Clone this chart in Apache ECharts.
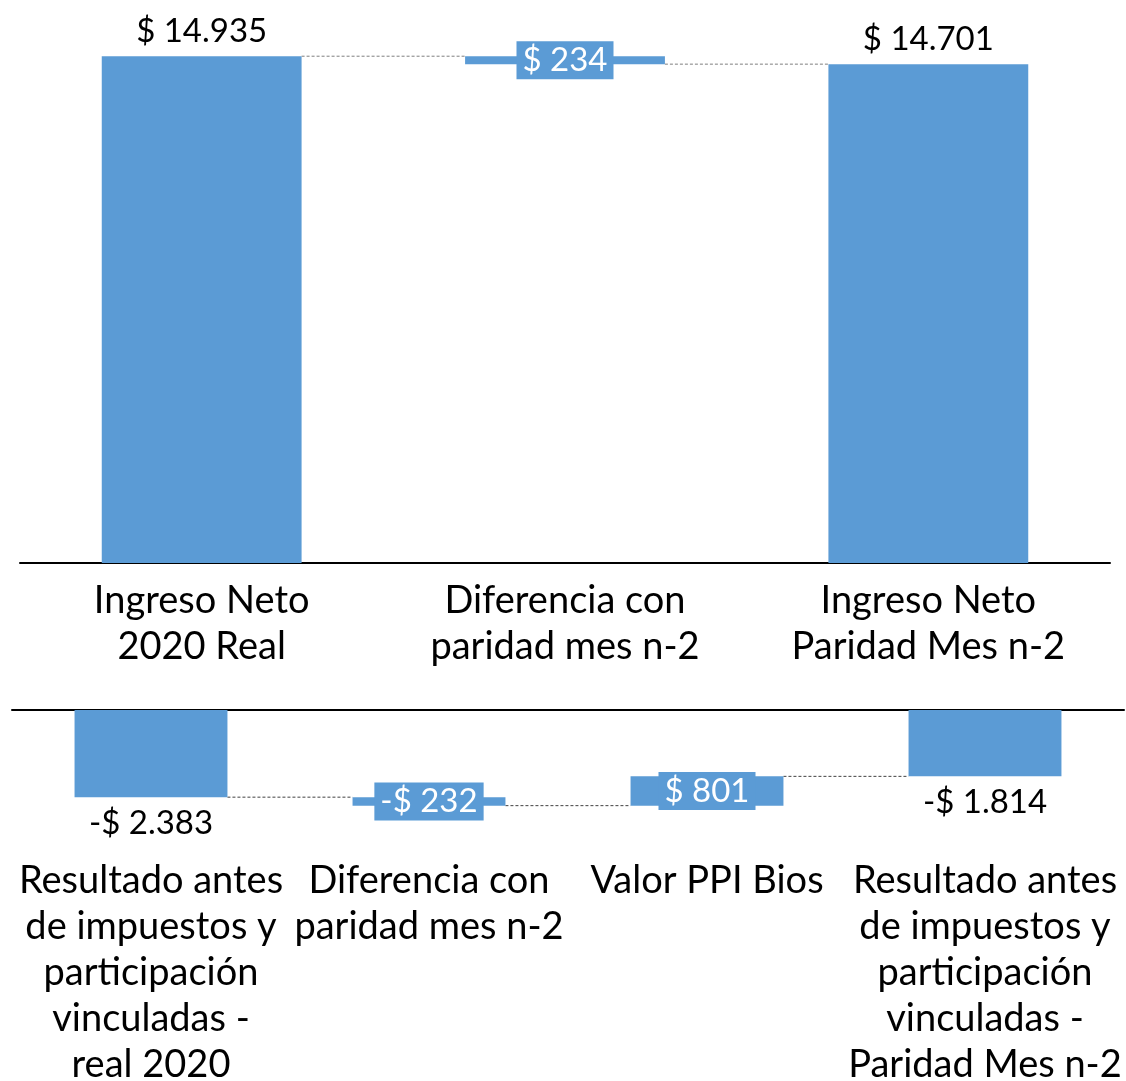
<!DOCTYPE html>
<html style="height: 100%">
<head>
    <meta charset="utf-8">
    <title>Waterfall</title>
    <script src="https://cdn.jsdelivr.net/npm/echarts@6/dist/echarts.min.js"></script>
</head>
<body style="height: 100%; margin: 0; background: #fff">
<div id="container" style="width: 1126px; height: 1081px"></div>
<script>
    // top waterfall
    var topCategories = ['Ingreso Neto\n2020 Real', 'Diferencia con\nparidad mes n-2', 'Ingreso Neto\nParidad Mes n-2'];
    var topValues = [14935, -234, 14701];
    var topIsTotal = [true, false, true];
    var topLabels = ['$ 14.935', '$ 234', '$ 14.701'];

    // bottom waterfall
    var botCategories = [
        'Resultado antes\nde impuestos y\nparticipación\nvinculadas -\nreal 2020',
        'Diferencia con\nparidad mes n-2',
        'Valor PPI Bios',
        'Resultado antes\nde impuestos y\nparticipación\nvinculadas -\nParidad Mes n-2'
    ];
    var botValues = [-2383, -232, 801, -1814];
    var botIsTotal = [true, false, false, true];
    var botLabels = ['-$ 2.383', '-$ 232', '$ 801', '-$ 1.814'];

    var BLUE = '#5B9BD5';
    var FONT = 'Lato';
    var BAR_W = 0.55;

    // turns values into invisible base + visible bar, plus running level after each bar
    function waterfall(values, isTotal) {
        var base = [], vis = [], level = [], run = 0;
        values.forEach(function (v, i) {
            var start = isTotal[i] ? 0 : run;
            var end = isTotal[i] ? v : run + v;
            run = end;
            var d = Math.abs(end - start);
            if (start >= 0 && end >= 0) {
                base.push(Math.min(start, end));
                vis.push(d);
            } else {
                base.push(Math.max(start, end));
                vis.push(-d);
            }
            level.push(end);
        });
        return {base: base, vis: vis, level: level};
    }

    function visData(wf, isTotal, outsidePos, dist) {
        return wf.vis.map(function (v, i) {
            if (isTotal[i]) {
                return {value: v, label: {position: outsidePos, distance: dist, color: '#000'}};
            }
            return {
                value: v,
                label: {
                    position: 'inside', color: '#fff', backgroundColor: BLUE,
                    padding: [4, 6, 1, 6]
                }
            };
        });
    }

    function connector(xIdx, yIdx, levels, color) {
        var pts = [];
        for (var i = 0; i < levels.length - 1; i++) pts.push([i, levels[i]]);
        return {
            type: 'custom',
            xAxisIndex: xIdx,
            yAxisIndex: yIdx,
            silent: true,
            z: 1,
            data: pts,
            renderItem: function (params, api) {
                var i = api.value(0), lv = api.value(1);
                var p1 = api.coord([i, lv]);
                var p2 = api.coord([i + 1, lv]);
                var half = api.size([1, 0])[0] * BAR_W / 2;
                return {
                    type: 'line',
                    shape: {x1: p1[0] + half, y1: p1[1], x2: p2[0] - half, y2: p2[1]},
                    style: {stroke: color, lineWidth: 1, lineDash: [3, 2]}
                };
            }
        };
    }

    var topWf = waterfall(topValues, topIsTotal);
    var botWf = waterfall(botValues, botIsTotal);

    var dom = document.getElementById('container');
    var myChart = echarts.init(dom);

    var catLabel = {
        interval: 0,
        color: '#000',
        fontFamily: FONT,
        fontSize: 38,
        lineHeight: 46
    };

    var option = {
        animation: false,
        grid: [
            {left: 20, right: 16, top: 54, height: 509, outerBoundsMode: 'none'},
            {left: 12, right: 2, top: 710, height: 139, outerBoundsMode: 'none'}
        ],
        xAxis: [
            {
                type: 'category', gridIndex: 0, data: topCategories,
                axisLine: {lineStyle: {color: '#000', width: 2}},
                axisTick: {show: false},
                axisLabel: Object.assign({margin: 15}, catLabel)
            },
            {
                type: 'category', gridIndex: 1, data: botCategories, position: 'top',
                axisLine: {lineStyle: {color: '#000', width: 2}},
                axisTick: {show: false},
                axisLabel: {show: false}
            },
            {
                type: 'category', gridIndex: 1, data: botCategories, position: 'bottom',
                axisLine: {show: false},
                axisTick: {show: false},
                axisLabel: Object.assign({margin: 9}, catLabel)
            }
        ],
        yAxis: [
            {type: 'value', gridIndex: 0, min: 0, max: 15000, show: false},
            {type: 'value', gridIndex: 1, min: -3800, max: 0, show: false}
        ],
        series: [
            connector(0, 0, topWf.level, '#7f7f7f'),
            {
                type: 'bar', xAxisIndex: 0, yAxisIndex: 0, stack: 'top',
                data: topWf.base, barWidth: '55%',
                itemStyle: {color: 'transparent'}, silent: true, z: 2
            },
            {
                type: 'bar', xAxisIndex: 0, yAxisIndex: 0, stack: 'top',
                data: visData(topWf, topIsTotal, 'top', 8), barWidth: '55%',
                itemStyle: {color: BLUE}, z: 2,
                label: {
                    show: true, fontFamily: FONT, fontSize: 33,
                    formatter: function (p) { return topLabels[p.dataIndex]; }
                }
            },
            connector(2, 1, botWf.level, '#404040'),
            {
                type: 'bar', xAxisIndex: 2, yAxisIndex: 1, stack: 'bot',
                data: botWf.base, barWidth: '55%',
                itemStyle: {color: 'transparent'}, silent: true, z: 2
            },
            {
                type: 'bar', xAxisIndex: 2, yAxisIndex: 1, stack: 'bot',
                data: visData(botWf, botIsTotal, 'bottom', 10), barWidth: '55%',
                itemStyle: {color: BLUE}, z: 2,
                label: {
                    show: true, fontFamily: FONT, fontSize: 33,
                    formatter: function (p) { return botLabels[p.dataIndex]; }
                }
            }
        ]
    };

    myChart.setOption(option);
    window.onresize = function () {
        myChart.resize();
    };
</script>
</body>
</html>
